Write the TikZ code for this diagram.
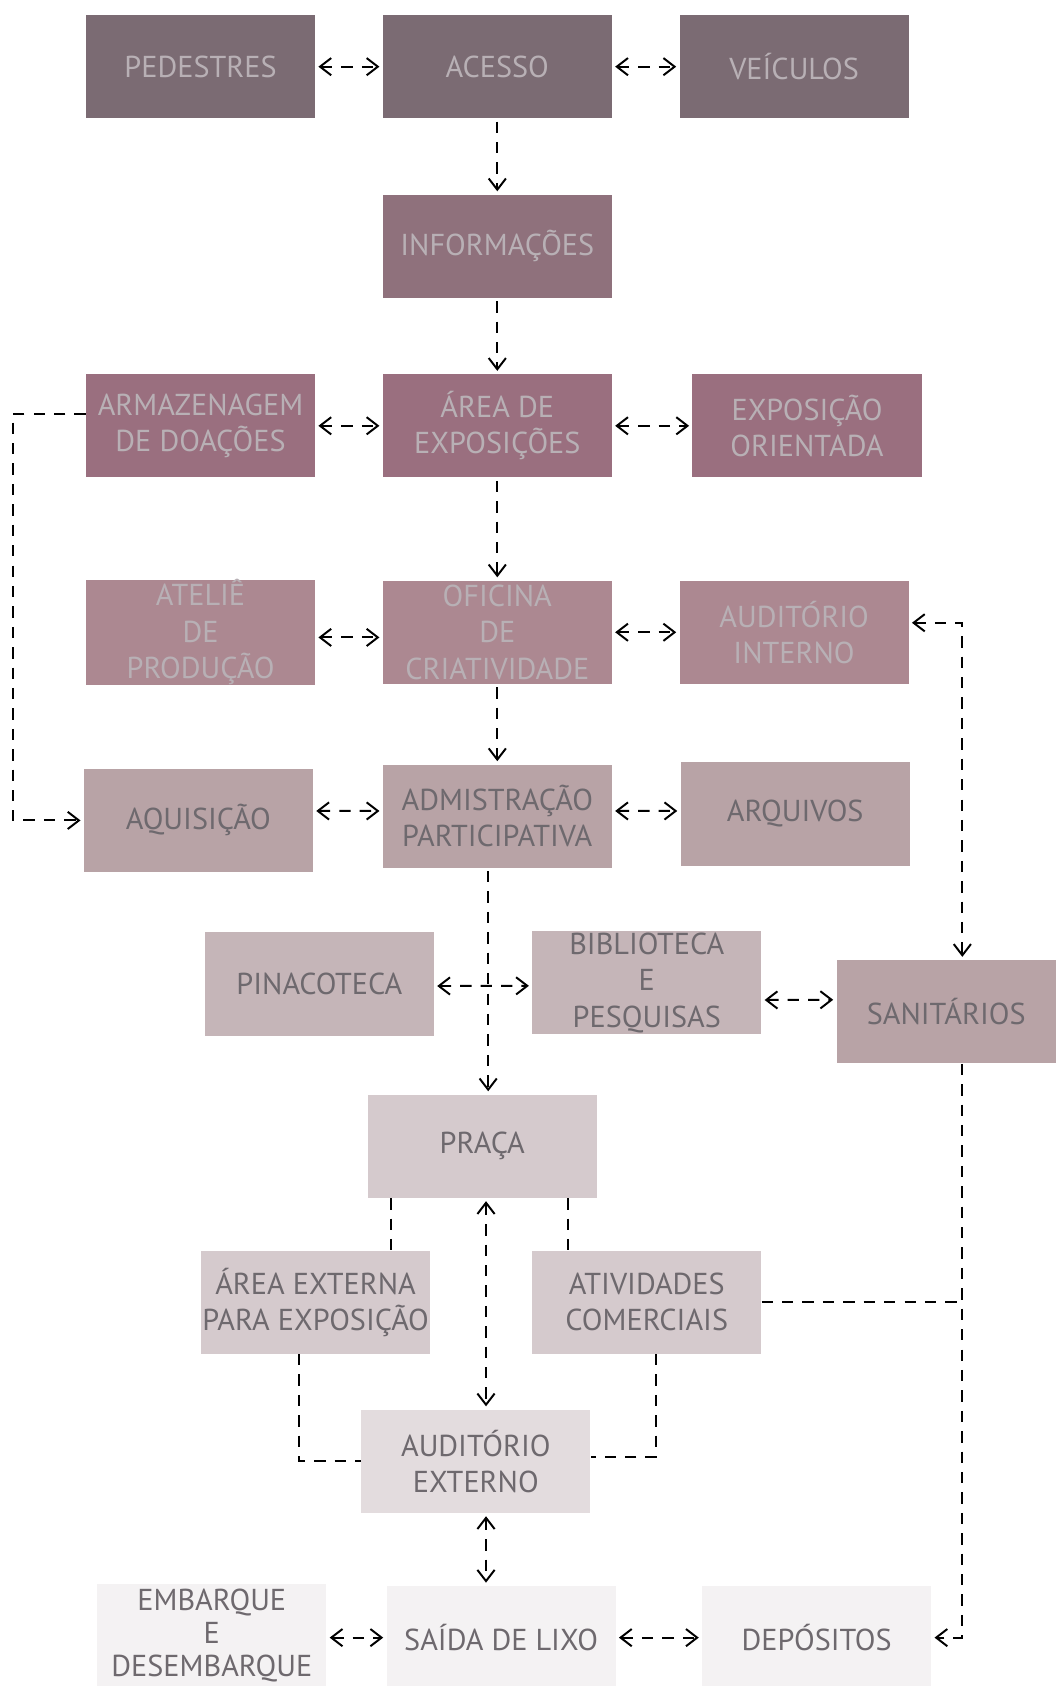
\documentclass[tikz,border=0pt]{standalone}
\usepackage{fontspec}
\usetikzlibrary{arrows.meta}

\newfontfamily\salafont{PT Sans}

\definecolor{tom1}{HTML}{7B6B73}
\definecolor{tom2}{HTML}{8F717C}
\definecolor{tom3}{HTML}{9A6F7F}
\definecolor{tom4}{HTML}{AC8891}
\definecolor{tom5}{HTML}{B8A3A6}
\definecolor{tom6}{HTML}{C5B5B8}
\definecolor{tom7}{HTML}{D5CACD}
\definecolor{tom8}{HTML}{E3DCDE}
\definecolor{tom9}{HTML}{F4F2F3}
\definecolor{letraclara}{HTML}{B8B0B5}
\definecolor{letraescura}{HTML}{6E696E}

\begin{document}
\begin{tikzpicture}[x=0.025cm, y=-0.025cm,
    sala/.style={minimum width=5.325cm, minimum height=2.4cm, inner sep=0pt,
      align=center, font=\salafont\fontsize{20}{24}\selectfont},
    clara/.style={sala, text=letraclara},
    escura/.style={sala, text=letraescura},
    fluxo/.style={line width=1.3pt, dash pattern=on 7.5pt off 6pt,
      >={Straight Barb[length=2.6mm, width=4mm]}}]

            \useasboundingbox (0,0) rectangle (982,1568);
            \clip (0,0) rectangle (982,1568);

            % acesso
            \node[clara, fill=tom1] (ped) at (186.5,62) {PEDESTRES};
            \node[clara, fill=tom1] (ace) at (462.5,62) {ACESSO};
            \node[clara, fill=tom1] (vei) at (738.5,62) {VEÍCULOS};
            \node[clara, fill=tom2] (inf) at (462.5,229) {INFORMAÇÕES};

            % exposicoes
            \node[clara, fill=tom3] (arm) at (186.5,396) {ARMAZENAGEM\\DE DOAÇÕES};
            \node[clara, fill=tom3] (are) at (462.5,396) {ÁREA DE\\EXPOSIÇÕES};
            \node[clara, fill=tom3] (exo) at (750.5,396) {EXPOSIÇÃO\\ORIENTADA};

            \node[clara, fill=tom4] (ate) at (186.5,588) {ATELIÊ\\DE\\PRODUÇÃO};
            \node[clara, fill=tom4] (ofi) at (462.5,588) {OFICINA\\DE\\CRIATIVIDADE};
            \node[clara, fill=tom4] (aui) at (738.5,588) {AUDITÓRIO\\INTERNO};

            \node[escura, fill=tom5] (aqu) at (184.5,763) {AQUISIÇÃO};
            \node[escura, fill=tom5] (adm) at (462.5,759) {ADMISTRAÇÃO\\PARTICIPATIVA};
            \node[escura, fill=tom5] (arq) at (739.5,757) {ARQUIVOS};

            \node[escura, fill=tom6] (pin) at (297,915) {PINACOTECA};
            \node[escura, fill=tom6] (bib) at (601.5,914) {BIBLIOTECA\\E\\PESQUISAS};
            \node[escura, fill=tom5, minimum width=5.1cm] (san) at (880,941) {SANITÁRIOS};

            % praca
            \node[escura, fill=tom7] (pra) at (448.5,1066) {PRAÇA};
            \node[escura, fill=tom7] (ext) at (293.5,1211) {ÁREA EXTERNA\\PARA EXPOSIÇÃO};
            \node[escura, fill=tom7] (ati) at (601.5,1211) {ATIVIDADES\\COMERCIAIS};
            \node[escura, fill=tom8] (aue) at (442.5,1359) {AUDITÓRIO\\EXTERNO};

            \node[escura, fill=tom9, font=\salafont\fontsize{20}{22}\selectfont]
                (emb) at (197,1521) {EMBARQUE\\E\\DESEMBARQUE};
            \node[escura, fill=tom9] (sai) at (466,1523) {SAÍDA DE LIXO};
            \node[escura, fill=tom9] (dep) at (759.5,1523) {DEPÓSITOS};

            % eixos das ligacoes
            \coordinate (xl) at (12,0);
            \coordinate (xr) at (895,0);
            \coordinate (xa) at (454,0);
            \coordinate (xb) at (452,0);
            \coordinate (xc) at (364,0);
            \coordinate (xd) at (528,0);
            \coordinate (xe) at (278,0);
            \coordinate (xf) at (610,0);

            \begin{scope}[fluxo, shorten <=2pt, shorten >=2pt]
            \draw[<->] (ped) -- (ace);
            \draw[<->] (ace) -- (vei);
            \draw[->] (ace) -- (inf);
            \draw[->] (inf) -- (are);
            \draw[<->] (arm) -- (are);
            \draw[<->] (are) -- (exo);
            \draw[->] (are) -- (ofi);
            \draw[<->] ([yshift=-0.12cm]ate.east) -- ([yshift=-0.12cm]ofi.west);
            \draw[<->] (ofi) -- (aui);
            \draw[->] (ofi) -- (adm);
            \draw[<->] ([yshift=0.22cm]aqu.east) -- ([yshift=0.12cm]adm.west);
            \draw[<->] ([yshift=0.12cm]adm.east) -- ([yshift=0.07cm]arq.west);
            \draw[<->] ([yshift=-0.05cm]pin.east) -- ([yshift=-0.07cm]bib.west);
            \draw[<->] ([yshift=-0.4cm]bib.east) -- ([yshift=0.28cm]san.west);
            \draw[->] (adm.south -| xa) -- (pra.north -| xa);
            \draw[<->] (pra.south -| xb) -- (aue.north -| xb);
            \draw[<->] (aue.south -| xb) -- (sai.north -| xb);
            \draw[<->] (emb.east |- sai) -- (sai);
            \draw[<->] (sai) -- (dep);
            \end{scope}

            \begin{scope}[fluxo]
            \draw[->, shorten >=2pt] ([yshift=0.28cm]arm.west) -| (xl |- aqu) -- (aqu.west);
            \draw[<->, shorten <=2pt, shorten >=2pt] ([yshift=0.22cm]aui.east) -| (xr |- san.north);
            \draw[->, shorten >=2pt] (xr |- san.south) |- (dep.east);
            \draw (ati.east) -- (xr |- ati.east);
            \draw (pra.south -| xc) -- (ext.north -| xc);
            \draw (pra.south -| xd) -- (ati.north -| xd);
            \draw (ext.south -| xe) |- (aue.west);
            \draw (ati.south -| xf) |- ([yshift=0.1cm]aue.east);
            \end{scope}

        \end{tikzpicture}
\end{document}
